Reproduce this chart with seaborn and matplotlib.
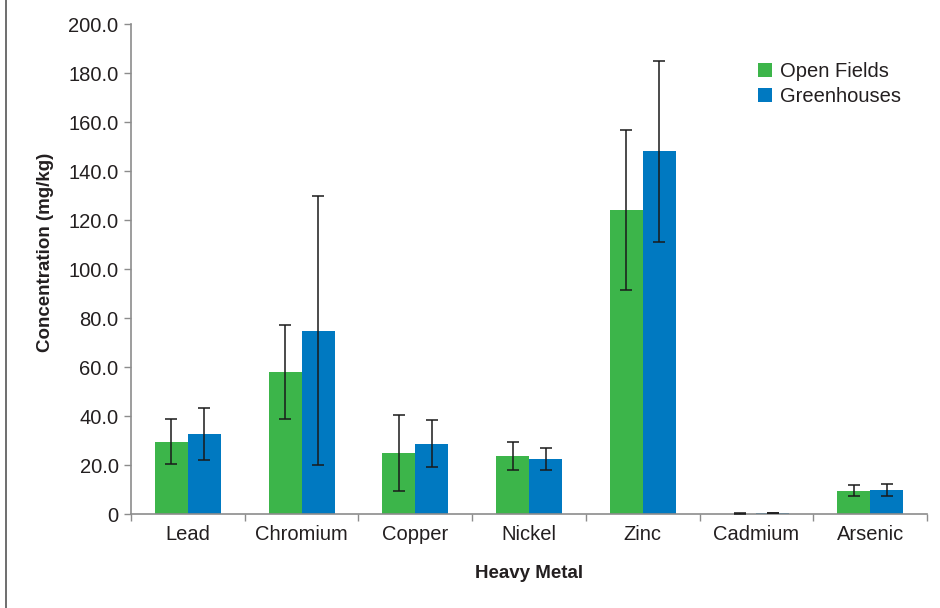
import matplotlib
matplotlib.use("Agg")
import matplotlib.pyplot as plt
from matplotlib.lines import Line2D
from matplotlib.ticker import FuncFormatter, FixedLocator
import numpy as np
import pandas as pd
import seaborn as sns

# values
metals = ["Lead", "Chromium", "Copper", "Nickel", "Zinc", "Cadmium", "Arsenic"]
open_fields = [29.5, 58.1, 24.8, 23.7, 124.1, 0.2, 9.5]
open_fields_sd = [9.1, 19.2, 15.6, 5.6, 32.7, 0.05, 2.2]
greenhouses = [32.7, 74.8, 28.7, 22.4, 148.0, 0.3, 9.8]
greenhouses_sd = [10.5, 55.0, 9.6, 4.6, 37.0, 0.05, 2.5]
groups = ["Open Fields", "Greenhouses"]
colors = ["#3cb54a", "#0079c1"]

df = pd.DataFrame({
    "metal": metals * 2,
    "group": [groups[0]] * len(metals) + [groups[1]] * len(metals),
    "value": open_fields + greenhouses,
})
sds = [open_fields_sd, greenhouses_sd]

sns.set_style("white")
plt.rcParams["font.family"] = ["Liberation Sans", "DejaVu Sans"]
text_col = "#231f20"
axis_col = "#8c8c8c"

fig, ax = plt.subplots(figsize=(9.4, 6.08), dpi=100)
fig.subplots_adjust(left=0.1394, right=0.9862, top=0.9605, bottom=0.1546)

sns.barplot(data=df, x="metal", y="value", hue="group", order=metals,
            hue_order=groups, palette=colors, width=0.58, gap=0,
            errorbar=None, saturation=1, linewidth=0, ax=ax)

# error bars on each bar
for cont, sd in zip(ax.containers, sds):
    xs = [p.get_x() + p.get_width() / 2 for p in cont.patches]
    ys = [p.get_height() for p in cont.patches]
    ax.errorbar(xs, ys, yerr=sd, fmt="none", ecolor="#1a1a1a",
                elinewidth=1.1, capsize=4, capthick=1.1, zorder=3)

ax.set_ylim(0, 200)
ax.set_xlim(-0.5, len(metals) - 0.5)
ax.set_yticks(np.arange(0, 201, 20))
ax.yaxis.set_major_formatter(FuncFormatter(lambda v, p: "0" if v == 0 else f"{v:.1f}"))

# x tick marks between categories
ax.xaxis.set_minor_locator(FixedLocator(np.arange(-0.5, len(metals), 1.0)))
ax.tick_params(axis="x", which="major", length=0, pad=8, labelsize=14.5, labelcolor=text_col)
ax.tick_params(axis="x", which="minor", length=5, width=1, color=axis_col, direction="out")
ax.tick_params(axis="y", which="major", length=5, width=1, color=axis_col,
               direction="out", pad=4, labelsize=14.5, labelcolor=text_col)
ax.tick_params(axis="x", which="both", bottom=True)
ax.tick_params(axis="y", left=True)

for side in ["top", "right"]:
    ax.spines[side].set_visible(False)
for side in ["left", "bottom"]:
    ax.spines[side].set_color(axis_col)
    ax.spines[side].set_linewidth(1.2)

label_font = dict(fontsize=13.5, fontweight="bold", color=text_col)
ax.set_xlabel("Heavy Metal", **label_font)
ax.set_ylabel("Concentration (mg/kg)", **label_font)
ax.xaxis.set_label_coords(0.5, -0.104)
ax.yaxis.set_label_coords(-0.097, 0.533)

leg = ax.legend(loc="upper right", bbox_to_anchor=(0.99, 0.96), frameon=False,
                fontsize=14.5, handlelength=0.7, handleheight=0.7,
                handletextpad=0.4, labelspacing=0.3)
for t in leg.get_texts():
    t.set_color(text_col)

# thin frame line at left edge of image
fig.add_artist(Line2D([6 / 940, 6 / 940], [0, 1], color="#555555", lw=1.2))

fig.savefig("out.png", dpi=100)
